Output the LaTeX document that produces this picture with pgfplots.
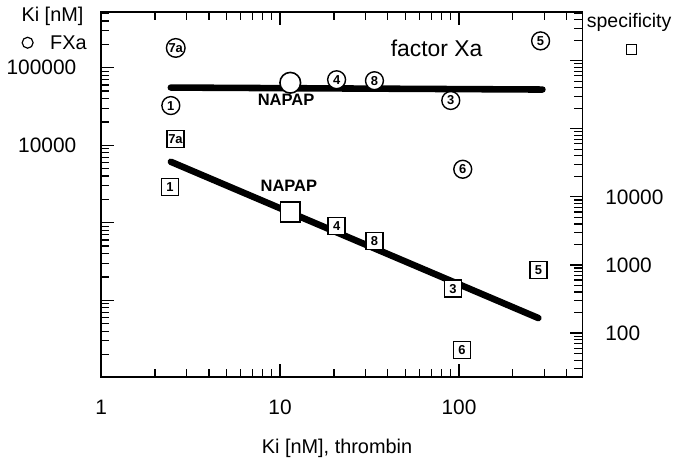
\documentclass[border=0pt]{standalone}
\usepackage{fontspec}
\setmainfont{Liberation Sans}
\usepackage{pgfplots}
\pgfplotsset{compat=1.18}

% Ki for factor Xa (left axis)
\pgfplotstableread{
x     y       lab
2.61  180000  7a
2.45  32500   1
20.7  70000   4
33.7  68000   8
90    37800   3
105   4900    6
286   222000  5
}\fxa
% specificity (right axis)
\pgfplotstableread{
x     y      lab
2.6   70300  7a
2.42  14000  1
20.7  3750   4
33.7  2260   8
92.6  450    3
278   844    5
104   56     6
}\spec

\begin{document}
\begin{tikzpicture}[x=0.5pt,y=0.5pt]
\pgfplotsset{
  every axis/.append style={
    scale only axis, width=242pt, height=183.5pt,
    xmode=log, ymode=log, xmin=1, xmax=490,
    tick align=inside, major tick length=6.5pt, minor tick length=4pt,
    tick style={black, line width=0.6pt},
    ticklabel style={font=\fontsize{10.5}{11}\selectfont},
    /pgf/number format/assume math mode=true,
    /pgf/number format/1000 sep={},
  },
}
\begin{axis}[
  at={(0,0)}, anchor=south west,
  ymin=10.3, ymax=525000,
  axis line style={line width=0.8pt},
  ytick pos=left,
  log ticks with fixed point,
  xticklabel style={yshift=-8pt},
  yticklabel={\ifdim\tick pt>10.5pt 100000\else\ifdim\tick pt>8.5pt 10000\fi\fi},
  yticklabel style={xshift=-9pt},
  xlabel={Ki [nM], thrombin},
  every axis x label/.style={at={(axis description cs:0.49,0)}, anchor=center, yshift=-36pt, font=\fontsize{10}{10}\selectfont},
]
\addplot[black, line width=3.3pt, line cap=round] coordinates {(2.45,55500) (293,52300)};
\addplot[only marks, mark=*, mark size=5.2pt, mark options={fill=white, draw=black, line width=0.8pt}] coordinates {(11.4,64000)};
\addplot[only marks, mark=none, nodes near coords, point meta=explicit symbolic, nodes near coords align=center,
  every node near coord/.style={circle, draw, fill=white, line width=0.7pt, inner sep=0.3pt, minimum size=9pt, anchor=center,
  font=\fontsize{6.5}{7}\selectfont\bfseries}]
  table[x=x, y=y, meta=lab] {\fxa};
\node[font=\fontsize{8.3}{8}\selectfont\bfseries] at (axis cs:10.8,39000) {NAPAP};
\node[font=\fontsize{11.5}{12}\selectfont] at (axis cs:75,180000) {factor Xa};
\end{axis}
\begin{axis}[
  at={(0,0)}, anchor=south west,
  ymin=22.8, ymax=5190000,
  axis x line=none, axis y line*=right,
  axis line style={line width=0.8pt},
  yticklabel={\ifdim\tick pt<4pt\else\ifdim\tick pt<5.5pt 100\else\ifdim\tick pt<8pt 1000\else\ifdim\tick pt<10pt 10000\fi\fi\fi\fi},
  yticklabel style={xshift=8pt},
]
\addplot[black, line width=3.3pt, line cap=round] coordinates {(2.45,32700) (278,166)};
\addplot[only marks, mark=square*, mark size=5pt, mark options={fill=white, draw=black, line width=0.8pt}] coordinates {(11.4,6000)};
\addplot[only marks, mark=none, nodes near coords, point meta=explicit symbolic, nodes near coords align=center,
  every node near coord/.style={rectangle, draw, fill=white, line width=0.7pt, inner sep=0.3pt, minimum size=8.5pt, anchor=center,
  font=\fontsize{6.5}{7}\selectfont\bfseries}]
  table[x=x, y=y, meta=lab] {\spec};
\node[font=\fontsize{8.3}{8}\selectfont\bfseries] at (axis cs:11.2,14500) {NAPAP};
\end{axis}
% annotations outside the axes (1 unit = 1 px of the reference, origin at axis corner)
\node[font=\fontsize{10}{11}\selectfont] at (-49,363) {Ki [nM]};
\node[circle, draw, line width=0.6pt, minimum size=5.5pt, inner sep=0pt] at (-74,336) {};
\node[font=\fontsize{10}{11}\selectfont] at (-33,336) {FXa};
\node[font=\fontsize{9.8}{11}\selectfont] at (531,356) {specificity};
\node[rectangle, draw, line width=0.6pt, minimum size=5pt, inner sep=0pt] at (533,329) {};
\end{tikzpicture}
\end{document}
